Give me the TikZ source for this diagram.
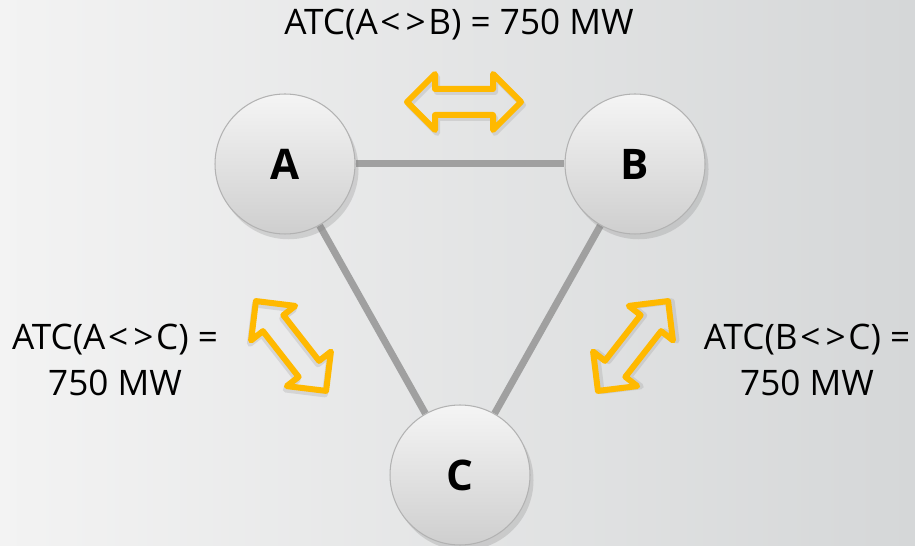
\documentclass[tikz,border=0pt]{standalone}
\usepackage{fontspec}
\setmainfont{Open Sans}
\usetikzlibrary{backgrounds,shadows}
\definecolor{bgleft}{HTML}{F3F3F3}
\definecolor{bgright}{HTML}{D5D7D8}
\definecolor{linkgray}{HTML}{A0A0A0}
\definecolor{atcorange}{HTML}{FFB900}
% outline of a double arrow, centred at the origin
\newcommand{\atcarrow}{(-57,0) -- (-29,28) -- (-29,13) -- (29,13) -- (29,28) -- (57,0)
    -- (29,-28) -- (29,-13) -- (-29,-13) -- (-29,-28) -- cycle}
% the "<>" between two areas, set a little looser
\newcommand{\btw}{\kern1.5pt<\kern3pt>\kern1.5pt}
\begin{document}
\begin{tikzpicture}[x=0.02cm,y=-0.02cm,
    area/.style={circle, draw=gray!60, line width=0.6pt, minimum size=2.8cm, inner sep=0pt,
        top color=gray!8, bottom color=gray!38,
        drop shadow={opacity=0.25, shadow xshift=2pt, shadow yshift=-3pt},
        font=\fontsize{24}{28}\selectfont\bfseries},
    link/.style={linkgray, line width=7*0.02cm},
    atc/.style={atcorange, line width=6*0.02cm, line join=round},
    atcshadow/.style={gray, opacity=0.2, line width=6*0.02cm, line join=round},
    lab/.style={align=center, font=\fontsize{20}{26}\selectfont}]
    \useasboundingbox (0,0) rectangle (915,546);
    % Areas
    \node[area] (A) at (285,164) {A};
    \node[area] (B) at (635,164) {B};
    \node[area] (C) at (460,475) {C};
    % Background and tie lines
    \begin{scope}[on background layer]
        \fill[left color=bgleft, right color=bgright] (0,0) rectangle (915,546);
        \draw[link] (A) -- (B);
        \draw[link] (A) -- (C);
        \draw[link] (B) -- (C);
    \end{scope}
    % Transfer capacities
    \node[lab] (labAB) at (459,25) {ATC(A\btw B) = 750 MW};
    \node[lab] (labAC) at (115,360) {ATC(A\btw C) =\\750 MW};
    \node[lab] (labBC) at (807,360) {ATC(B\btw C) =\\750 MW};
    % Double arrows
    \begin{scope}[shift={(464,102)}]
        \draw[atcshadow, shift={(2,3)}] \atcarrow;
        \draw[atc] \atcarrow;
    \end{scope}
    \begin{scope}[shift={(291,346)}, rotate=-52]
        \draw[atcshadow, shift={(2,3)}] \atcarrow;
        \draw[atc] \atcarrow;
    \end{scope}
    \begin{scope}[shift={(633,346)}, rotate=52]
        \draw[atcshadow, shift={(2,3)}] \atcarrow;
        \draw[atc] \atcarrow;
    \end{scope}
\end{tikzpicture}
\end{document}
